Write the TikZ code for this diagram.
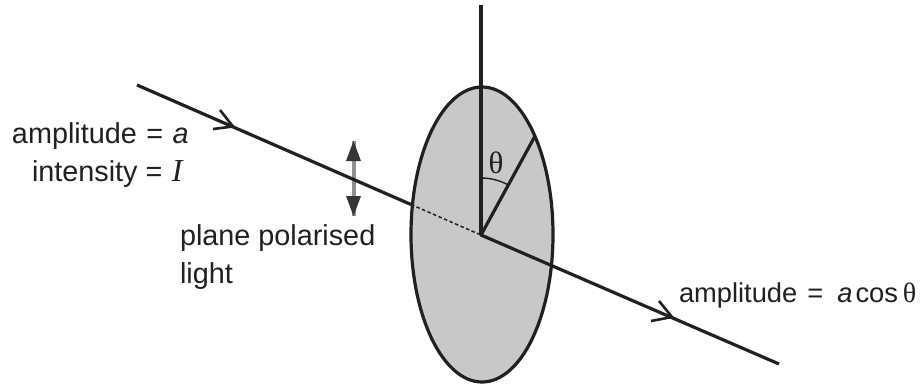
\documentclass[tikz,border=0pt]{standalone}
\usepackage{fontspec}
\setmainfont{Liberation Sans}
\newfontfamily\serifgr{Liberation Serif}
\usetikzlibrary{calc,shapes.geometric}
\definecolor{inkc}{RGB}{35,31,32}
\definecolor{discgrey}{RGB}{199,200,202}
\tikzset{
  every node/.style={inner sep=0pt,outer sep=0pt,text=inkc},
  lbl/.style={anchor=base west,font=\fontsize{28.8}{30}\selectfont},
  lblout/.style={anchor=base west,font=\fontsize{27.3}{30}\selectfont},
  ray/.style={draw=inkc,line width=3.2pt},
  barb/.style={draw=inkc,line width=2.6pt},
  thin dash/.style={draw=inkc,line width=1.5pt,dash pattern=on 3.5pt off 2.5pt},
}
\begin{document}
\begin{tikzpicture}[x=1pt,y=-1pt]
\useasboundingbox (0,0) rectangle (923,383);
% disc
\node[ellipse,draw=inkc,fill=discgrey,line width=3.2pt,minimum width=142pt,minimum height=295pt] (disc) at (482,234.5) {};
% points
\coordinate (O) at (481,235);
\coordinate (top) at (481,5);
\coordinate (rim) at (534.5,137);
\coordinate (start) at (137,85);
\coordinate (enter) at (411,204.5);
\coordinate (finish) at (779,364);
\coordinate (h1) at (233,126.5);
\coordinate (h1a) at (220,110);
\coordinate (h1b) at (213,129);
\coordinate (h2) at (672,317);
\coordinate (h2a) at (659,301);
\coordinate (h2b) at (651,321);
% polarisation arrow
\coordinate (pu) at (353.5,141);
\coordinate (pd) at (353.5,216);
\draw[draw=inkc!50,line width=4pt] (pu) -- (pd);
\fill[inkc!90] (pu) -- (361,161) -- (346,161) -- cycle;
\fill[inkc!90] (pd) -- (361,196) -- (346,196) -- cycle;
% axis and radius
\draw[ray] (top) -- (O);
\draw[ray,line cap=round] (O) -- (rim);
% angle arc
\draw[draw=inkc,line width=1.4pt] (481,178) arc[start angle=90,end angle=61.5,radius=57pt];
% ray
\draw[ray] (start) -- (enter);
\draw[thin dash] (enter) -- (O);
\draw[ray] (O) -- (finish);
% ray arrowheads
\draw[barb] (h1a) -- (h1) -- (h1b);
\draw[barb] (h2a) -- (h2) -- (h2b);
% labels
\node[lbl] (amp) at (12,143) {amplitude\hspace{9.5pt}=\hspace{9.5pt}\textit{a}};
\node[lbl] (int) at (32,181) {intensity =\hspace{9.5pt}{\serifgr\fontsize{32}{32}\selectfont\textit{I}}};
\node[lbl] (plane) at (180,245) {plane polarised};
\node[lbl] (light) at (180,283) {light};
\node[lblout] (out) at (679,302) {amplitude\hspace{10pt}=\hspace{14pt}\textit{a}\hspace{3pt}cos\hspace{5pt}{\serifgr\fontsize{28}{28}\selectfont θ}};
\node[anchor=base,font=\serifgr\fontsize{31}{31}\selectfont] (theta) at (496,173.5) {θ};
\end{tikzpicture}
\end{document}
